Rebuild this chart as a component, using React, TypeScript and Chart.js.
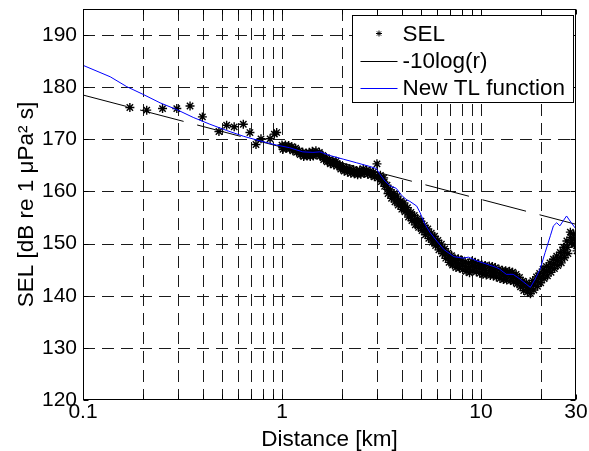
import { useEffect, useRef } from "react";
import { Chart, registerables } from "chart.js";

Chart.register(...registerables);

const FONT = "'Liberation Sans', Arial, Helvetica, sans-serif";

// Axis ticks
const xTickValues = [0.1, 0.2, 0.3, 0.4, 0.5, 0.6, 0.7, 0.8, 0.9, 1, 2, 3, 4, 5, 6, 7, 8, 9, 10, 20, 30];
const xTickLabels: Record<string, string> = { "0.1": "0.1", "1": "1", "10": "10", "30": "30" };
const yTickValues = [120, 130, 140, 150, 160, 170, 180, 190];

// SEL measurements: sparse near field
const selSparseDist = [0.172, 0.209, 0.251, 0.296, 0.345, 0.398, 0.482, 0.527, 0.575, 0.639, 0.69, 0.74, 0.784, 0.871, 0.915, 0.94];
const selSparseLevel = [176.1, 175.6, 175.9, 175.9, 176.4, 174.3, 171.5, 172.7, 172.4, 172.9, 171.3, 169.0, 170.1, 170.1, 171.0, 171.3];

// SEL measurements: dense far field (upper edge, middle and lower edge of the band)
const selDist = [1.00, 1.04, 1.08, 1.12, 1.17, 1.22, 1.27, 1.32, 1.37, 1.42, 1.48, 1.54, 1.60, 1.67, 1.73, 1.80, 1.87, 1.95, 2.03, 2.11, 2.19, 2.28, 2.37, 2.46, 2.56, 2.66, 2.77, 2.88, 3.00, 3.12, 3.24, 3.37, 3.51, 3.65, 3.79, 3.95, 4.10, 4.27, 4.44, 4.62, 4.80, 4.99, 5.19, 5.40, 5.62, 5.84, 6.07, 6.32, 6.57, 6.83, 7.11, 7.39, 7.69, 8.00, 8.32, 8.65, 9.00, 9.36, 9.73, 10.1, 10.5, 11.0, 11.4, 11.8, 12.3, 12.8, 13.3, 13.9, 14.4, 15.0, 15.6, 16.2, 16.9, 17.5, 18.2, 19.0, 19.7, 20.5, 21.3, 22.2, 23.1, 24.0, 25.0, 26.0, 27.0, 28.1, 29.2, 30.0];
const selUpper = [168.9, 168.9, 168.8, 168.6, 168.3, 167.8, 167.5, 167.4, 167.5, 167.7, 167.8, 167.5, 166.9, 166.5, 166.1, 165.9, 165.8, 165.1, 164.7, 164.5, 164.3, 164.2, 164.0, 164.1, 164.3, 164.1, 163.9, 163.7, 165.3, 163.1, 162.6, 161.2, 160.3, 159.6, 159.1, 158.2, 157.8, 156.9, 156.0, 155.4, 154.8, 154.3, 153.5, 152.8, 152.0, 151.4, 150.6, 149.9, 149.0, 148.2, 147.7, 147.2, 147.1, 146.8, 146.5, 146.2, 146.6, 146.4, 146.1, 145.9, 145.8, 145.7, 145.6, 145.4, 145.1, 144.9, 144.8, 144.7, 144.5, 144.1, 143.5, 142.8, 142.5, 142.2, 142.9, 143.6, 144.3, 145.1, 145.6, 146.3, 147.0, 147.6, 148.3, 149.3, 150.5, 152.2, 151.8, 150.6];
const selMid = [168.5, 168.6, 168.5, 168.2, 167.9, 167.5, 167.1, 167.1, 167.1, 167.2, 167.4, 167.2, 166.5, 166.1, 165.7, 165.5, 165.3, 164.7, 164.3, 164.1, 163.9, 163.8, 163.6, 163.7, 163.9, 163.7, 163.5, 163.2, 163.0, 162.5, 161.8, 160.4, 159.5, 158.8, 158.3, 157.4, 157.0, 156.0, 155.2, 154.5, 154.0, 153.4, 152.6, 151.9, 151.2, 150.5, 149.7, 149.0, 148.1, 147.3, 146.8, 146.3, 146.2, 145.9, 145.6, 145.3, 145.7, 145.5, 145.2, 145.0, 144.9, 144.8, 144.7, 144.5, 144.2, 144.0, 143.9, 143.8, 143.6, 143.2, 142.6, 141.9, 141.6, 141.3, 142.0, 142.7, 143.4, 144.2, 144.7, 145.4, 146.1, 146.7, 147.3, 148.3, 149.3, 151.2, 150.8, 149.6];
const selLower = [168.1, 168.3, 168.2, 167.8, 167.5, 167.1, 166.7, 166.8, 166.7, 166.8, 167.0, 166.8, 166.1, 165.7, 165.3, 165.1, 164.9, 164.3, 163.9, 163.7, 163.5, 163.4, 163.2, 163.3, 163.5, 163.3, 163.1, 162.8, 162.6, 161.9, 161.0, 159.6, 158.7, 158.0, 157.4, 156.6, 156.1, 155.1, 154.4, 153.6, 153.1, 152.5, 151.7, 151.0, 150.3, 149.6, 148.8, 148.1, 147.2, 146.4, 145.9, 145.4, 145.3, 145.0, 144.7, 144.4, 144.8, 144.6, 144.3, 144.1, 144.0, 143.9, 143.8, 143.6, 143.3, 143.1, 143.0, 142.9, 142.7, 142.3, 141.7, 141.0, 140.7, 140.4, 141.1, 141.8, 142.5, 143.3, 143.8, 144.5, 145.2, 145.8, 146.3, 147.3, 148.1, 150.2, 149.8, 148.6];

// -10log(r) reference line (end points)
const tenLogDist = [0.1, 30];
const tenLogLevel = [178.5, 153.7];

// New TL function
const tlDist = [0.1, 0.137, 0.166, 0.201, 0.244, 0.296, 0.358, 0.434, 0.527, 0.639, 0.775, 0.94, 1.09, 1.27, 1.43, 1.55, 1.74, 2.03, 2.37, 2.76, 2.98, 3.09, 3.29, 3.48, 3.75, 3.98, 4.23, 4.39, 4.75, 4.93, 5.23, 5.55, 5.99, 6.49, 7.3, 8.15, 8.64, 9.5, 10.6, 12.0, 12.4, 13.4, 14.5, 15.7, 16.9, 17.7, 18.7, 19.8, 21.0, 22.3, 23.1, 24.0, 24.9, 25.9, 26.9, 28.4, 30.0];
const tlLevel = [184.2, 182.0, 180.1, 178.6, 177.0, 175.7, 174.2, 172.9, 171.7, 170.6, 169.7, 168.9, 168.4, 167.6, 167.5, 167.6, 166.9, 166.2, 165.5, 164.8, 164.4, 163.4, 162.0, 161.1, 160.6, 159.3, 158.4, 158.1, 157.2, 156.0, 153.7, 152.1, 150.5, 148.9, 147.5, 147.2, 147.4, 146.7, 146.1, 145.4, 145.1, 144.1, 144.1, 143.2, 142.2, 141.6, 143.2, 145.1, 148.3, 151.5, 153.4, 154.0, 153.4, 154.4, 155.3, 154.0, 152.8];

const legendItems = [
  { label: "SEL", kind: "star", color: "#000000" },
  { label: "-10log(r)", kind: "line", color: "#000000" },
  { label: "New TL function", kind: "line", color: "#0000ff" },
];

const frameAndGrid = {
  id: "frameAndGrid",
  beforeDatasetsDraw(chart: any) {
    const { ctx, chartArea: a, scales } = chart;
    ctx.save();
    ctx.strokeStyle = "#1a1a1a";
    ctx.lineWidth = 1;
    ctx.setLineDash([12, 7]);
    for (const v of xTickValues) {
      const px = Math.round(scales.x.getPixelForValue(v)) + 0.5;
      if (px <= a.left + 1 || px >= a.right - 1) continue;
      ctx.beginPath();
      ctx.moveTo(px, a.top);
      ctx.lineTo(px, a.bottom);
      ctx.stroke();
    }
    for (const v of yTickValues) {
      const py = Math.round(scales.y.getPixelForValue(v)) + 0.5;
      if (py <= a.top + 1 || py >= a.bottom - 1) continue;
      ctx.beginPath();
      ctx.moveTo(a.left, py);
      ctx.lineTo(a.right, py);
      ctx.stroke();
    }
    ctx.restore();
  },
  afterDraw(chart: any) {
    const { ctx, chartArea: a, scales } = chart;
    ctx.save();
    ctx.strokeStyle = "#000";
    ctx.lineWidth = 1;
    ctx.setLineDash([]);
    const L = Math.round(a.left) + 0.5, R = Math.round(a.right) - 0.5;
    const T = Math.round(a.top) + 0.5, B = Math.round(a.bottom) - 0.5;
    ctx.strokeRect(L, T, R - L, B - T);
    const tk = 5;
    ctx.beginPath();
    for (const v of xTickValues) {
      const px = Math.round(scales.x.getPixelForValue(v)) + 0.5;
      ctx.moveTo(px, B); ctx.lineTo(px, B - tk);
      ctx.moveTo(px, T); ctx.lineTo(px, T + tk);
    }
    for (const v of yTickValues) {
      const py = Math.round(scales.y.getPixelForValue(v)) + 0.5;
      ctx.moveTo(L, py); ctx.lineTo(L + tk, py);
      ctx.moveTo(R, py); ctx.lineTo(R - tk, py);
    }
    ctx.stroke();

    // Legend box
    const lw = 221, lh = 87;
    const lx = Math.round(a.right) - 3 - lw + 0.5;
    const ly = Math.round(a.top) + 6 + 0.5;
    ctx.fillStyle = "#fff";
    ctx.fillRect(lx, ly, lw, lh);
    ctx.strokeRect(lx, ly, lw, lh);
    ctx.font = `22.5px ${FONT}`;
    ctx.textBaseline = "middle";
    ctx.textAlign = "left";
    legendItems.forEach((it, i) => {
      const cy = ly + 18 + i * 27;
      const x0 = lx + 8, x1 = lx + 45;
      ctx.strokeStyle = it.color;
      ctx.lineWidth = 1;
      ctx.beginPath();
      if (it.kind === "line") {
        ctx.moveTo(x0, Math.round(cy) + 0.5);
        ctx.lineTo(x1, Math.round(cy) + 0.5);
      } else {
        const cx = (x0 + x1) / 2, r = 3;
        ctx.moveTo(cx - r, cy); ctx.lineTo(cx + r, cy);
        ctx.moveTo(cx, cy - r); ctx.lineTo(cx, cy + r);
        const d = r * 0.707;
        ctx.moveTo(cx - d, cy - d); ctx.lineTo(cx + d, cy + d);
        ctx.moveTo(cx - d, cy + d); ctx.lineTo(cx + d, cy - d);
      }
      ctx.stroke();
      ctx.fillStyle = "#000";
      ctx.fillText(it.label, lx + 50, cy + 1);
    });
    ctx.restore();
  },
};

export default function App() {
  const ref = useRef<HTMLCanvasElement>(null);
  useEffect(() => {
    document.body.style.margin = "0";
    const canvas = ref.current!;
    const selPoints = [
      ...selSparseDist.map((d, i) => ({ x: d, y: selSparseLevel[i] })),
      ...selDist.map((d, i) => ({ x: d, y: selUpper[i] })),
      ...selDist.map((d, i) => ({ x: d * 1.006, y: selMid[i] })),
      ...selDist.map((d, i) => ({ x: d * 1.012, y: selLower[i] })),
    ];
    const chart = new Chart(canvas, {
      type: "scatter",
      data: {
        datasets: [
          {
            label: "SEL",
            data: selPoints,
            showLine: false,
            pointStyle: "star",
            pointRadius: 4.5,
            pointBorderWidth: 1.4,
            borderColor: "#000",
            backgroundColor: "#000",
            order: 2,
          },
          {
            label: "-10log(r)",
            data: tenLogDist.map((d, i) => ({ x: d, y: tenLogLevel[i] })),
            showLine: true,
            pointRadius: 0,
            borderColor: "#000",
            borderWidth: 1,
            borderDash: [45, 14],
            order: 1,
          },
          {
            label: "New TL function",
            data: tlDist.map((d, i) => ({ x: d, y: tlLevel[i] })),
            showLine: true,
            pointRadius: 0,
            borderColor: "#0000ff",
            borderWidth: 1,
            order: 0,
          },
        ],
      } as any,
      options: {
        animation: false,
        responsive: false,
        devicePixelRatio: 1,
        layout: { padding: { left: 0, top: 9, right: 13, bottom: 0 } },
        plugins: { legend: { display: false }, tooltip: { enabled: false } },
        scales: {
          x: {
            type: "logarithmic",
            min: 0.1,
            max: 30,
            afterBuildTicks: (s: any) => {
              s.ticks = xTickValues.map((v) => ({ value: v }));
            },
            afterFit: (s: any) => {
              s.height = 51;
              s.paddingLeft = 0;
              s.paddingRight = 0;
            },
            ticks: {
              autoSkip: false,
              maxRotation: 0,
              padding: 0,
              color: "#000",
              font: { family: FONT, size: 21 },
              callback: (v: any) => xTickLabels[String(v)] ?? "",
            },
            grid: { display: false, drawTicks: false, tickLength: 0 },
            border: { display: false },
            title: {
              display: true,
              text: "Distance [km]",
              color: "#000",
              font: { family: FONT, size: 22.5 },
              padding: { top: 0, bottom: -2 },
            },
          },
          y: {
            type: "linear",
            min: 120,
            max: 195,
            afterBuildTicks: (s: any) => {
              s.ticks = yTickValues.map((v) => ({ value: v }));
            },
            afterFit: (s: any) => {
              s.width = 83;
              s.paddingTop = 0;
              s.paddingBottom = 0;
            },
            ticks: {
              padding: 6,
              color: "#000",
              font: { family: FONT, size: 21 },
            },
            grid: { display: false, drawTicks: false, tickLength: 0 },
            border: { display: false },
            title: {
              display: true,
              text: "SEL [dB re 1 μPa² s]",
              color: "#000",
              font: { family: FONT, size: 22.5 },
              padding: { top: 13, bottom: 0 },
            },
          },
        },
      },
      plugins: [frameAndGrid],
    });
    return () => chart.destroy();
  }, []);
  return (
    <div style={{ position: "absolute", left: 0, top: 0, width: 589, height: 451, background: "#fff" }}>
      <canvas ref={ref} width={589} height={451} style={{ width: 589, height: 451, display: "block" }} />
    </div>
  );
}
